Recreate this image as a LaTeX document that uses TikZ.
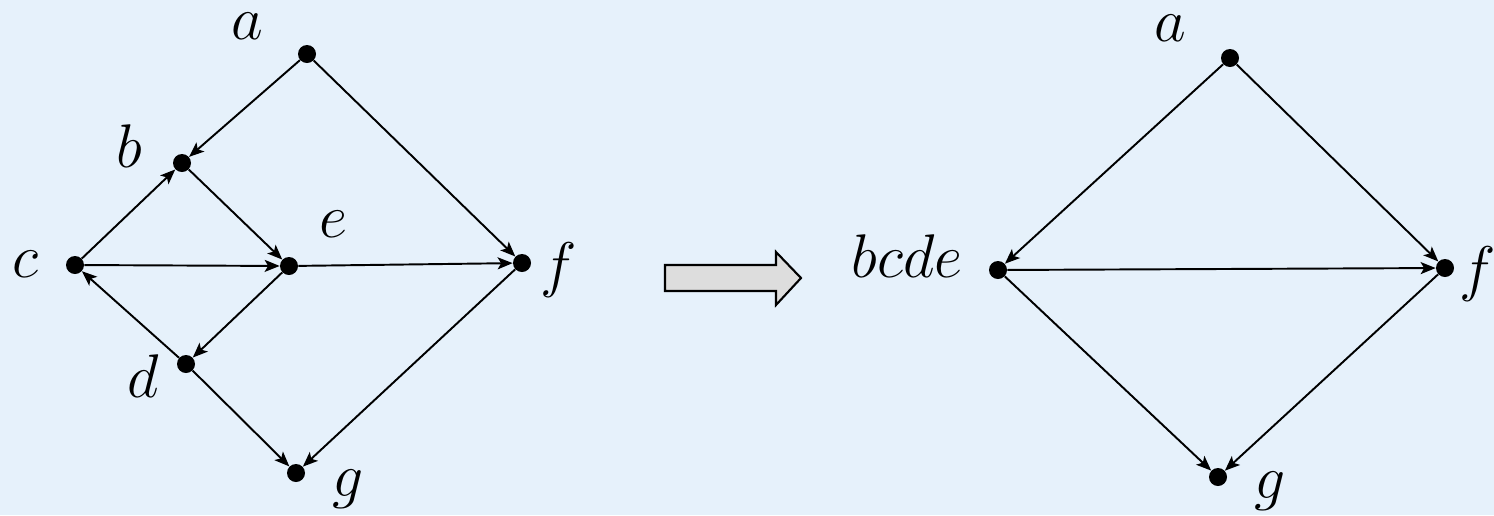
\documentclass[tikz,border=0pt]{standalone}
\usetikzlibrary{arrows.meta}
\definecolor{bgcolor}{RGB}{230,241,251}
\definecolor{arrowgray}{RGB}{221,221,221}

\begin{document}
\begin{tikzpicture}[x=0.02cm,y=-0.02cm,
    vertex/.style={circle,fill=black,inner sep=0pt,minimum size=18*0.02cm},
    lbl/.style={inner sep=0pt,anchor=base,font=\Huge,scale=1.41,transform shape},
    edge/.style={-{Stealth[length=0.3cm,width=0.24cm,inset=0.07cm]},line width=1.1pt}]
    \fill[bgcolor] (0,0) rectangle (1494,515);
    \useasboundingbox (0,0) rectangle (1494,515);
    % left graph
    \node[vertex] (a) at (307,54) {};
    \node[vertex] (b) at (182,163) {};
    \node[vertex] (c) at (75,265) {};
    \node[vertex] (e) at (289,266) {};
    \node[vertex] (f) at (522,263) {};
    \node[vertex] (d) at (186,364) {};
    \node[vertex] (g) at (296,473) {};
    \node[lbl] (la) at (247,39) {$a$};
    \node[lbl] (lb) at (129,167) {$b$};
    \node[lbl] (lc) at (25,277) {$c$};
    \node[lbl] (le) at (333,237) {$e$};
    \node[lbl] (lf) at (559,285) {$f$};
    \node[lbl] (ld) at (143,397) {$d$};
    \node[lbl] (lg) at (348,496) {$g$};
    \draw[edge] (a) -- (b);
    \draw[edge] (a) -- (f);
    \draw[edge] (c) -- (b);
    \draw[edge] (b) -- (e);
    \draw[edge] (c) -- (e);
    \draw[edge] (e) -- (f);
    \draw[edge] (e) -- (d);
    \draw[edge] (d) -- (c);
    \draw[edge] (d) -- (g);
    \draw[edge] (f) -- (g);
    % big arrow
    \draw[line width=1.2pt,fill=arrowgray,line join=miter]
      (665,265) -- (776,265) -- (776,252) -- (801,278) -- (776,305)
      -- (776,291) -- (665,291) -- cycle;
    % right graph
    \node[vertex] (a2) at (1230,58) {};
    \node[vertex] (bcde) at (998,270) {};
    \node[vertex] (f2) at (1445,268) {};
    \node[vertex] (g2) at (1218,477) {};
    \node[lbl] (la2) at (1170,41) {$a$};
    \node[lbl] (lbcde) at (907,277) {$bcde$};
    \node[lbl] (lf2) at (1478,289) {$f$};
    \node[lbl] (lg2) at (1270,498) {$g$};
    \draw[edge] (a2) -- (bcde);
    \draw[edge] (a2) -- (f2);
    \draw[edge] (bcde) -- (f2);
    \draw[edge] (bcde) -- (g2);
    \draw[edge] (f2) -- (g2);
\end{tikzpicture}
\end{document}
